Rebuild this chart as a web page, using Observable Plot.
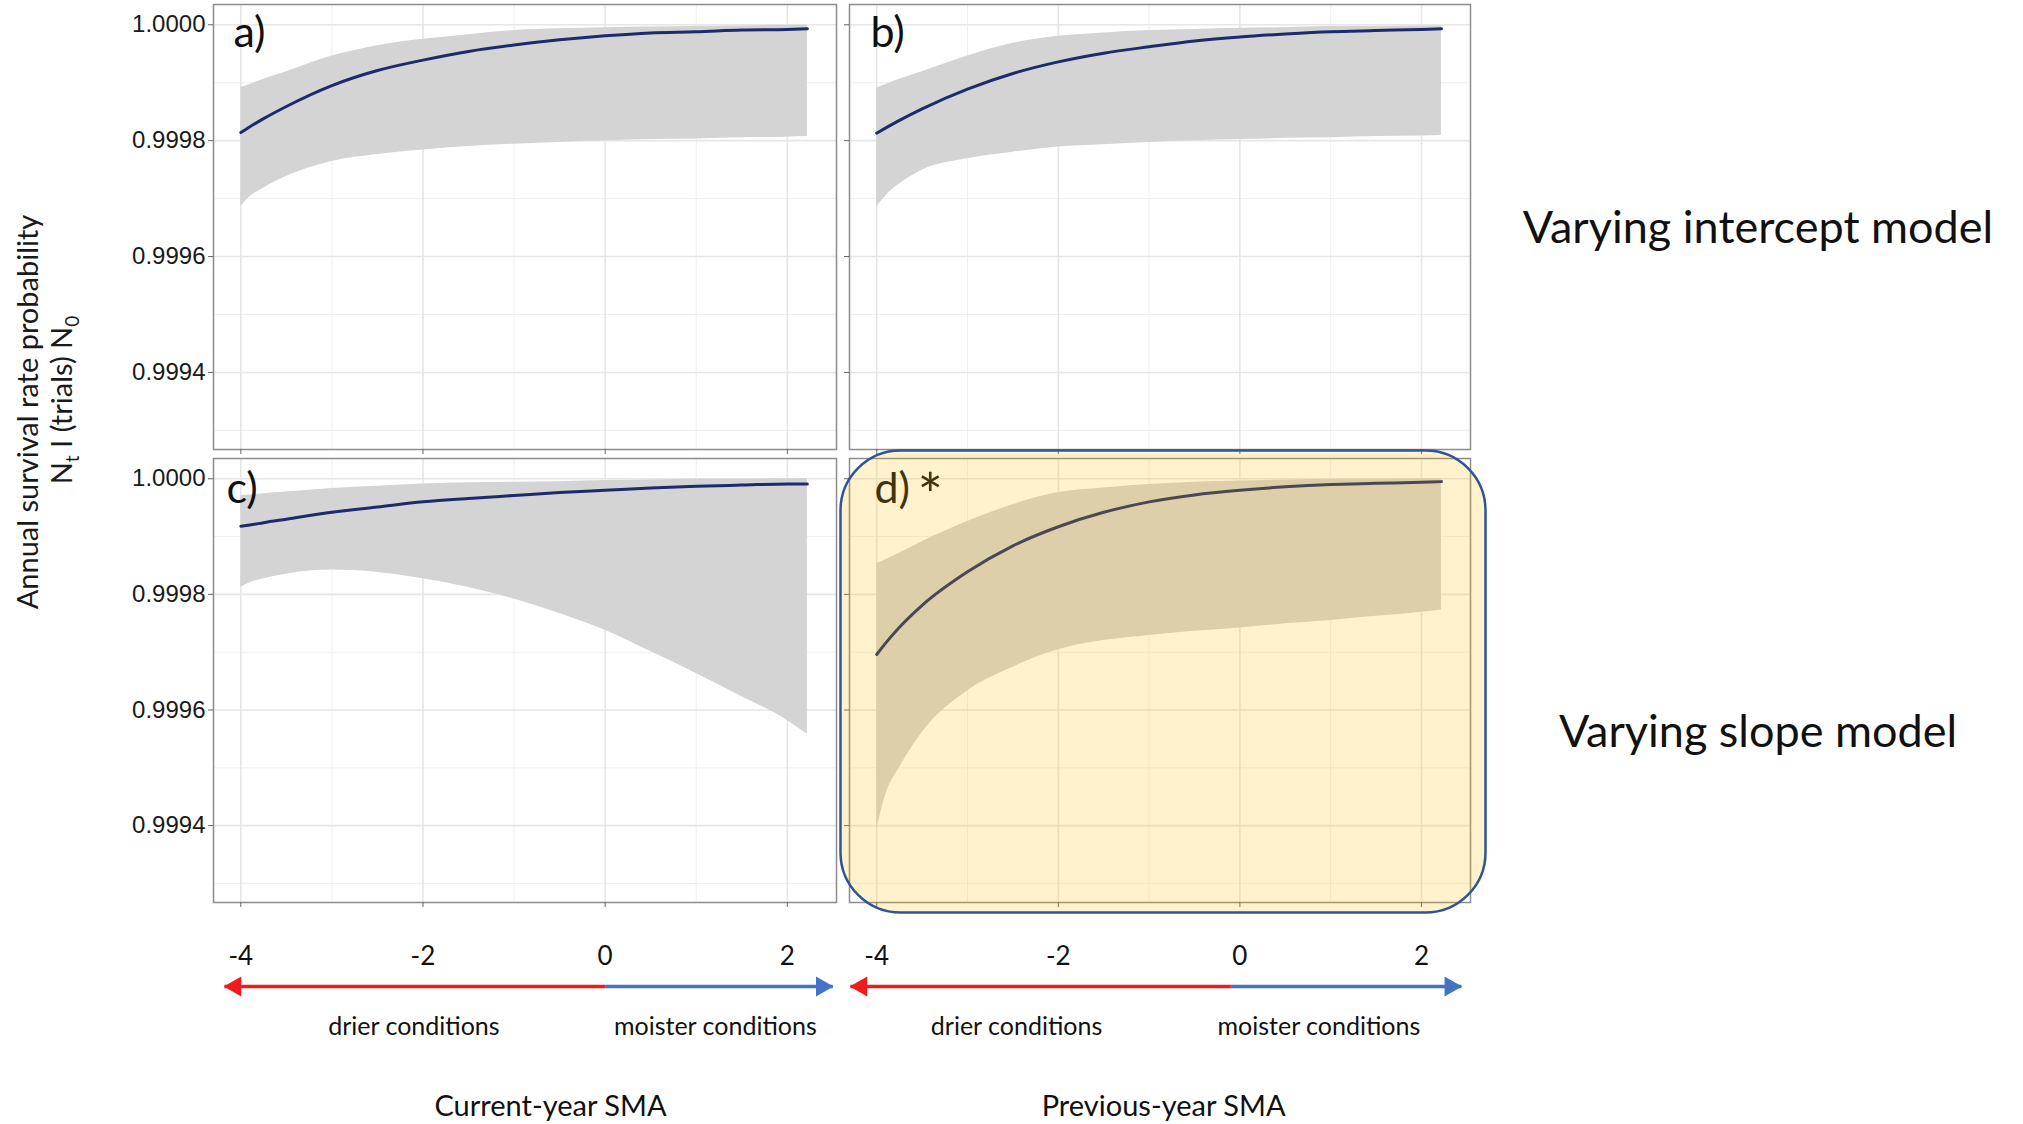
<!DOCTYPE html>
<html>
<head>
<meta charset="utf-8">
<script src="https://cdn.jsdelivr.net/npm/d3@7"></script>
<script src="https://cdn.jsdelivr.net/npm/@observablehq/plot@0.6"></script>
<style>
  html, body { margin: 0; padding: 0; background: #fff; }
  #root { position: relative; width: 2023px; height: 1124px; overflow: hidden; background: #fff; }
  .abs { position: absolute; }
  .side { font-family: Lato, "Open Sans", sans-serif; font-size: 45px; color: #111; white-space: nowrap; transform: translate(-50%, -50%); }
  .ytitle { font-family: Lato, "Open Sans", sans-serif; font-size: 29px; color: #1a1a1a; white-space: nowrap; transform: translate(-50%, -50%) rotate(-90deg); }
  .ytitle sub { font-size: 19px; }
</style>
</head>
<body>
<div id="root"></div>
<script>
// ---- data ----
const sma = [-4, -3.9, -3.75, -3.5, -3, -2.5, -2, -1.5, -1, -0.5, 0, 0.5, 1, 1.5, 2, 2.22];

// a) varying intercept, current-year SMA
const aMean = [0.999814, 0.999824, 0.999838, 0.999859, 0.999895, 0.999921, 0.999939, 0.999954, 0.999965, 0.999974, 0.999981, 0.999986, 0.999988, 0.999991, 0.999992, 0.999993];
const aUpper = [0.999892, 0.999897, 0.999906, 0.999919, 0.999946, 0.999964, 0.999975, 0.999983, 0.99999, 0.999993, 0.999995, 0.999996, 0.999997, 0.999998, 0.999999, 0.999999];
const aLower = [0.999686, 0.999703, 0.999718, 0.999738, 0.999764, 0.999776, 0.999784, 0.99979, 0.999794, 0.999797, 0.9998, 0.999802, 0.999803, 0.999805, 0.999806, 0.999807];

// b) varying intercept, previous-year SMA
const bMean = [0.999813, 0.999822, 0.999835, 0.999855, 0.999889, 0.999916, 0.999936, 0.999951, 0.999962, 0.999972, 0.999979, 0.999984, 0.999988, 0.99999, 0.999992, 0.999993];
const bUpper = [0.999891, 0.999897, 0.999906, 0.999919, 0.999946, 0.999968, 0.99998, 0.999986, 0.99999, 0.999992, 0.999994, 0.999995, 0.999997, 0.999997, 0.999998, 0.999998];
const bLower = [0.999685, 0.999705, 0.999725, 0.999749, 0.999769, 0.99978, 0.999789, 0.999793, 0.999797, 0.9998, 0.999802, 0.999804, 0.999805, 0.999807, 0.999808, 0.999809];

// c) varying slope, current-year SMA
const cMean = [0.999918, 0.99992, 0.999924, 0.99993, 0.999942, 0.999951, 0.99996, 0.999966, 0.999971, 0.999976, 0.99998, 0.999984, 0.999987, 0.999989, 0.999991, 0.999991];
const cUpper = [0.999971, 0.999972, 0.999974, 0.999977, 0.999983, 0.999987, 0.999991, 0.999993, 0.999994, 0.999995, 0.999997, 0.999998, 0.999999, 0.999999, 1.0, 1.0];
const cLower = [0.999812, 0.99982, 0.999827, 0.999835, 0.999842, 0.999838, 0.999827, 0.999812, 0.999792, 0.999767, 0.999738, 0.999701, 0.999663, 0.999623, 0.999582, 0.999558];

// d) varying slope, previous-year SMA
const dMean = [0.999696, 0.999716, 0.999743, 0.999781, 0.999839, 0.999884, 0.999917, 0.999942, 0.99996, 0.999972, 0.99998, 0.999986, 0.99999, 0.999992, 0.999994, 0.999995];
const dUpper = [0.999853, 0.99986, 0.999871, 0.999891, 0.999926, 0.999955, 0.999976, 0.999984, 0.99999, 0.999994, 0.999996, 0.999998, 0.999999, 0.999999, 1.0, 1.0];
const dLower = [0.999393, 0.999454, 0.9995, 0.999561, 0.999633, 0.999674, 0.999704, 0.99972, 0.999729, 0.999736, 0.999742, 0.999749, 0.999755, 0.999762, 0.999769, 0.999773];

const panelLabels = ["a)", "b)", "c)", "d) *"];
const yTicks = [0.9994, 0.9996, 0.9998, 1.0];
const yMinorTicks = [0.9993, 0.9995, 0.9997, 0.9999];
const xTicks = [-4, -2, 0, 2];
const xMinorTicks = [-3, -1, 1];
const modelLabels = ["Varying intercept model", "Varying slope model"];
const smaTitles = ["Current-year SMA", "Previous-year SMA"];
const conditionLabels = ["drier conditions", "moister conditions"];
// arrow annotation (SMA units) per column: split point, dry tip, moist tip
const arrowSplit = [0, -0.1];
const arrowDryTip = [-4.18, -4.29];
const arrowMoistTip = [2.5, 2.44];
const conditionX = [[-2.1, 1.21], [-2.46, 0.87]];
const titleX = [-0.6, -0.84];

// ---- layout ----
const xDomain = [-4.3, 2.54];
const yDomain = [0.999267, 1.000035];
const colLeft = [213, 849];
const colInner = [623, 621];
const ML = 90, MR = 30;
const root = document.getElementById("root");

function place(node, left, top) {
  const d = document.createElement("div");
  d.className = "abs";
  d.style.left = left + "px";
  d.style.top = top + "px";
  d.appendChild(node);
  root.appendChild(d);
  return d;
}

const baseStyle = {background: "transparent", overflow: "visible", fontFamily: "'Liberation Sans', Arial, sans-serif", fontSize: "24px", color: "#1a1a1a"};

function panel({col, row, mean, lo, hi, label, labelDx, labelDy, highlight}) {
  const data = sma.map((x, i) => ({x, mean: mean[i], lo: lo[i], hi: hi[i]}));
  const top = row === 0 ? 4 : 458;
  const innerH = row === 0 ? 445 : 444;
  const marginTop = row === 0 ? 4 : 20;
  const marginBottom = row === 0 ? 20 : 80;
  const [mainLabel, starLabel] = label.split(" ");
  const marks = [
    Plot.gridY(yMinorTicks, {stroke: "#efefef", strokeOpacity: 1, strokeWidth: 1}),
    Plot.gridX(xMinorTicks, {stroke: "#efefef", strokeOpacity: 1, strokeWidth: 1}),
    Plot.gridY(yTicks, {stroke: "#e6e6e6", strokeOpacity: 1, strokeWidth: 1.6}),
    Plot.gridX(xTicks, {stroke: "#e6e6e6", strokeOpacity: 1, strokeWidth: 1.6}),
    Plot.areaY(data, {x: "x", y1: "lo", y2: "hi", fill: "#d4d4d4", curve: "monotone-x"}),
    Plot.lineY(data, {x: "x", y: "mean", stroke: "#1d2b6b", strokeWidth: 3, curve: "monotone-x"}),
    Plot.frame({stroke: "#8c8c8c", strokeWidth: 1.5}),
    Plot.axisY({ticks: yTicks, tickSize: 5, tickPadding: 3, label: null, stroke: "#666", fill: "#1a1a1a", fontSize: 24,
      tickFormat: col === 0 ? d3.format(".4f") : () => ""}),
    Plot.axisX({ticks: xTicks, tickSize: 5, tickPadding: 39, label: null, stroke: "#666", fill: "#111", fontSize: 26,
      fontFamily: "Lato, sans-serif", tickFormat: row === 1 ? (d => String(d)) : () => ""}),
    Plot.text([mainLabel], {frameAnchor: "top-left", dx: labelDx, dy: labelDy, fontSize: 43, fontFamily: "Lato, sans-serif",
      textAnchor: "start", lineAnchor: "top", fill: "#111"})
  ];
  if (starLabel) {
    marks.push(Plot.text([starLabel], {frameAnchor: "top-left", dx: labelDx + 43, dy: labelDy + 2, fontSize: 60,
      fontFamily: "Lato, sans-serif", textAnchor: "start", lineAnchor: "top", fill: "#111"}));
  }
  if (highlight) {
    marks.push(Plot.frame({fill: "#ffc000", fillOpacity: 0.2, stroke: "#2f5597", strokeWidth: 2.5, rx: 60, ry: 60,
      insetLeft: -9, insetRight: -15, insetTop: -8, insetBottom: -10}));
  }
  const chart = Plot.plot({
    width: ML + colInner[col] + MR,
    height: marginTop + innerH + marginBottom,
    marginLeft: ML, marginRight: MR, marginTop, marginBottom,
    x: {domain: xDomain},
    y: {domain: yDomain},
    style: baseStyle,
    marks
  });
  place(chart, colLeft[col] - ML, top - marginTop);
}

panel({col: 0, row: 0, mean: aMean, lo: aLower, hi: aUpper, label: panelLabels[0], labelDx: 20, labelDy: 12});
panel({col: 1, row: 0, mean: bMean, lo: bLower, hi: bUpper, label: panelLabels[1], labelDx: 21, labelDy: 12});
panel({col: 0, row: 1, mean: cMean, lo: cLower, hi: cUpper, label: panelLabels[2], labelDx: 13, labelDy: 14});
panel({col: 1, row: 1, mean: dMean, lo: dLower, hi: dUpper, label: panelLabels[3], labelDx: 25, labelDy: 14, highlight: true});

// annotation strips under each column: arrows, condition labels, axis titles
function strip(col) {
  const rows = ["arrow", "conditions", "gap", "title"];
  const dry = [{from: arrowSplit[col], to: arrowDryTip[col]}];
  const moist = [{from: arrowSplit[col], to: arrowMoistTip[col]}];
  const conds = conditionLabels.map((t, i) => ({x: conditionX[col][i], text: t}));
  const chart = Plot.plot({
    width: ML + colInner[col] + MR,
    height: 194,
    marginLeft: ML, marginRight: MR, marginTop: 0, marginBottom: 0,
    x: {domain: xDomain, axis: null},
    y: {type: "point", domain: rows, range: [55, 177], padding: 0, axis: null},
    style: baseStyle,
    marks: [
      Plot.link(dry, {x1: "from", x2: "to", y1: () => "arrow", y2: () => "arrow", stroke: "#ee1c1c", strokeWidth: 3.5}),
      Plot.link(moist, {x1: "from", x2: "to", y1: () => "arrow", y2: () => "arrow", stroke: "#4472c4", strokeWidth: 3.5}),
      Plot.dot(dry, {x: "to", y: () => "arrow", symbol: "triangle", r: 7.5, fill: "#ee1c1c", rotate: -90, dx: 11}),
      Plot.dot(moist, {x: "to", y: () => "arrow", symbol: "triangle", r: 7.5, fill: "#4472c4", rotate: 90, dx: -11}),
      Plot.text(conds, {x: "x", y: () => "conditions", text: "text", fontSize: 25, fontFamily: "Lato, sans-serif", fill: "#111"}),
      Plot.text([smaTitles[col]], {x: () => titleX[col], y: () => "title", text: d => d, fontSize: 29, fontFamily: "Lato, sans-serif", fill: "#111"})
    ]
  });
  place(chart, colLeft[col] - ML, 930);
}
strip(0);
strip(1);

// right-hand model labels
[[modelLabels[0], 226], [modelLabels[1], 730]].forEach(([t, y]) => {
  const d = document.createElement("div");
  d.className = "abs side";
  d.style.left = "1758px";
  d.style.top = y + "px";
  d.textContent = t;
  root.appendChild(d);
});

// y-axis title (two lines)
const yt1 = document.createElement("div");
yt1.className = "abs ytitle";
yt1.style.left = "26px"; yt1.style.top = "412px";
yt1.textContent = "Annual survival rate probability";
root.appendChild(yt1);
const yt2 = document.createElement("div");
yt2.className = "abs ytitle";
yt2.style.left = "63px"; yt2.style.top = "400px";
yt2.innerHTML = "N<sub>t</sub> I (trials) N<sub>0</sub>";
root.appendChild(yt2);
</script>
</body>
</html>
